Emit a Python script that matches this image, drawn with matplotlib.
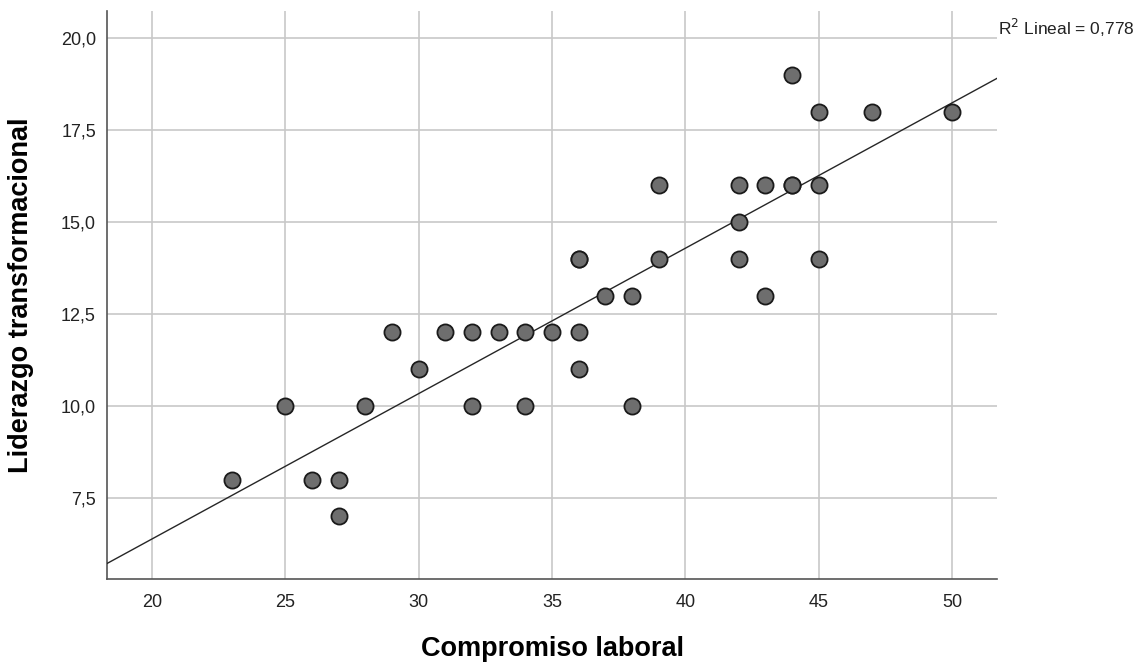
import numpy as np
import matplotlib.pyplot as plt
from matplotlib.ticker import FuncFormatter

# Compromiso laboral vs Liderazgo transformacional
compromiso = [23, 25, 26, 27, 27, 28, 29, 30, 31, 32, 32, 33, 34, 34, 35,
              36, 36, 36, 36, 37, 38, 38, 39, 39, 42, 42, 42, 43, 43,
              44, 44, 44, 45, 45, 45, 47, 50]
liderazgo = [8, 10, 8, 8, 7, 10, 12, 11, 12, 12, 10, 12, 12, 10, 12,
             14, 14, 12, 11, 13, 13, 10, 16, 14, 16, 15, 14, 16, 13,
             19, 16, 16, 18, 16, 14, 18, 18]
xticks = [20, 25, 30, 35, 40, 45, 50]
yticks = [7.5, 10.0, 12.5, 15.0, 17.5, 20.0]

plt.rcParams['font.family'] = ['Liberation Sans', 'DejaVu Sans']

fig = plt.figure(figsize=(11.48, 6.64), dpi=100)
ax = fig.add_axes([0.0932, 0.128, 0.7753, 0.8554])

x = np.array(compromiso, dtype=float)
y = np.array(liderazgo, dtype=float)

xmin, xmax = 18.31, 51.69
ymin, ymax = 5.3, 20.73

# fit line
b, a = np.polyfit(x, y, 1)
xl = np.array([xmin, xmax])
ax.plot(xl, a + b * xl, color='#262626', lw=1.0, zorder=3)

ax.scatter(x, y, s=135, facecolor='#6e6e6e', edgecolor='#1a1a1a', linewidth=1.3, zorder=4)

ax.set_xlim(xmin, xmax)
ax.set_ylim(ymin, ymax)
ax.set_xticks(xticks)
ax.set_yticks(yticks)
ax.xaxis.set_major_formatter(FuncFormatter(lambda v, p: '%d' % v))
ax.yaxis.set_major_formatter(FuncFormatter(lambda v, p: ('%.1f' % v).replace('.', ',')))
ax.tick_params(length=0, labelsize=13, colors='#222222')
ax.tick_params(axis='y', pad=8)
ax.tick_params(axis='x', pad=11)
ax.grid(True, color='#c8c8c8', lw=1.2)
ax.set_axisbelow(True)

for s in ['top', 'right']:
    ax.spines[s].set_visible(False)
for s in ['left', 'bottom']:
    ax.spines[s].set_color('#555555')
    ax.spines[s].set_linewidth(1.2)

ax.set_xlabel('Compromiso laboral', fontsize=19.5, fontweight='bold', labelpad=18)
ax.set_ylabel('Liderazgo transformacional', fontsize=19.5, fontweight='bold', labelpad=19)

fig.text(0.869, 0.947, 'R$^2$ Lineal = 0,778', fontsize=12.5, color='#222222')

fig.savefig('out.png', dpi=100)
